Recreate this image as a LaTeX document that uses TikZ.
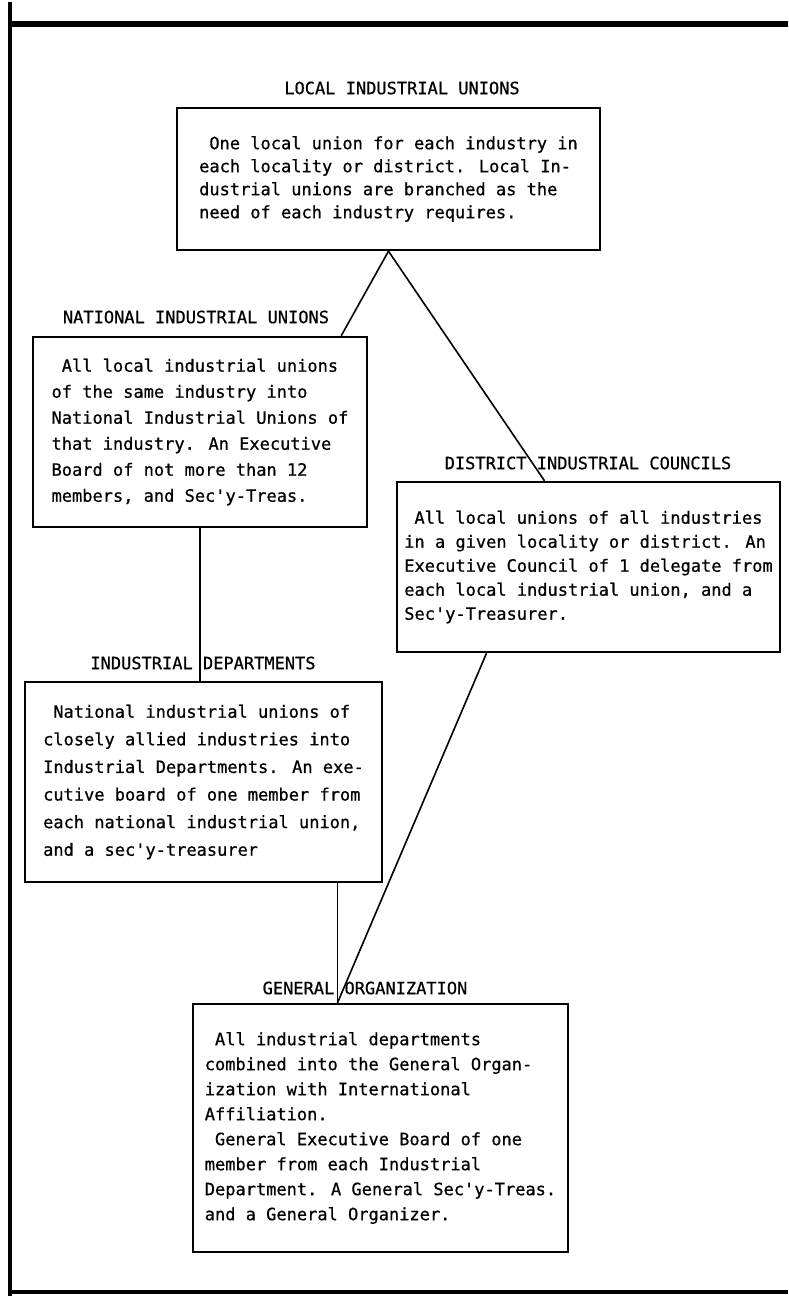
\documentclass[tikz,border=0pt]{standalone}
\usepackage{fontspec}
\newfontfamily\typewriter[FakeBold=0.7]{DejaVu Sans Mono}

\tikzset{
   unionbox/.style={draw, line width=1.2pt, align=left, inner sep=0pt},
   boxtitle/.style={inner sep=0pt, font=\typewriter\fontsize{8.5}{10}\selectfont},
   link/.style={line width=0.8pt}
}
\newcommand{\lead}{\hspace*{0.6em}}
\newcommand{\boxfont}[1]{\typewriter\fontsize{8.5}{#1}\selectfont}

\begin{document}
\begin{tikzpicture}[x=0.5pt, y=-0.5pt]
      \useasboundingbox (0,0) rectangle (788,1302);
      % page frame
      \draw[line width=2pt] (10,2) -- (10,1296);
      \draw[line width=3pt] (10,24) -- (788,24);
      \draw[line width=2pt] (10,1292) -- (788,1292);

      \node[unionbox, minimum width=211.5pt, minimum height=71pt,
            font={\boxfont{11.5}}] (local) at (388.5,179) {
         \lead One local union for each industry in\\
         each locality or district. Local In-\\
         dustrial unions are branched as the\\
         need of each industry requires.};
      \node[unionbox, minimum width=167pt, minimum height=95pt,
            font={\boxfont{13}}] (natl) at (200,432) {
         \lead All local industrial unions\\
         of the same industry into\\
         National Industrial Unions of\\
         that industry. An Executive\\
         Board of not more than 12\\
         members, and Sec'y-Treas.};
      \node[unionbox, minimum width=191.5pt, minimum height=85pt,
            font={\boxfont{12}}] (dist) at (588.5,567) {
         \lead All local unions of all industries\\
         in a given locality or district. An\\
         Executive Council of 1 delegate from\\
         each local industrial union, and a\\
         Sec'y-Treasurer.};
      \node[unionbox, minimum width=178.5pt, minimum height=100pt,
            font={\boxfont{13.8}}] (dept) at (203.5,782) {
         \lead National industrial unions of\\
         closely allied industries into\\
         Industrial Departments. An exe-\\
         cutive board of one member from\\
         each national industrial union,\\
         and a sec'y-treasurer};
      \node[unionbox, minimum width=187.5pt, minimum height=124pt,
            font={\boxfont{12.5}}] (gen) at (380.5,1128) {
         \lead All industrial departments\\
         combined into the General Organ-\\
         ization with International\\
         Affiliation.\\
         \lead General Executive Board of one\\
         member from each Industrial\\
         Department. A General Sec'y-Treas.\\
         and a General Organizer.};

      \foreach \n / \x / \y / \t in {
         local/402/88/LOCAL INDUSTRIAL UNIONS,
         natl/196/317/NATIONAL INDUSTRIAL UNIONS,
         dist/588/463/DISTRICT INDUSTRIAL COUNCILS,
         dept/203/663/INDUSTRIAL DEPARTMENTS,
         gen/365/988/GENERAL ORGANIZATION} {
         \node[boxtitle] (\n title) at (\x, \y) {\t};
      }

      \coordinate (natltop) at ([xshift=-13.5pt]natl.north east);
      \coordinate (disttop) at ([xshift=-22pt]dist.north);
      \coordinate (distbot) at ([xshift=-51pt]dist.south);
      \coordinate (join) at ([xshift=-21.5pt]gen.north);
      \coordinate (depttop) at (natl.south |- dept.north);
      \coordinate (deptbot) at (join |- dept.south);
      \foreach \u / \v in {
         local.south/natltop,
         local.south/disttop,
         natl.south/depttop,
         deptbot/join,
         distbot/join} {
         \path[draw, link] (\u) -- (\v);
      }
   \end{tikzpicture}
\end{document}
